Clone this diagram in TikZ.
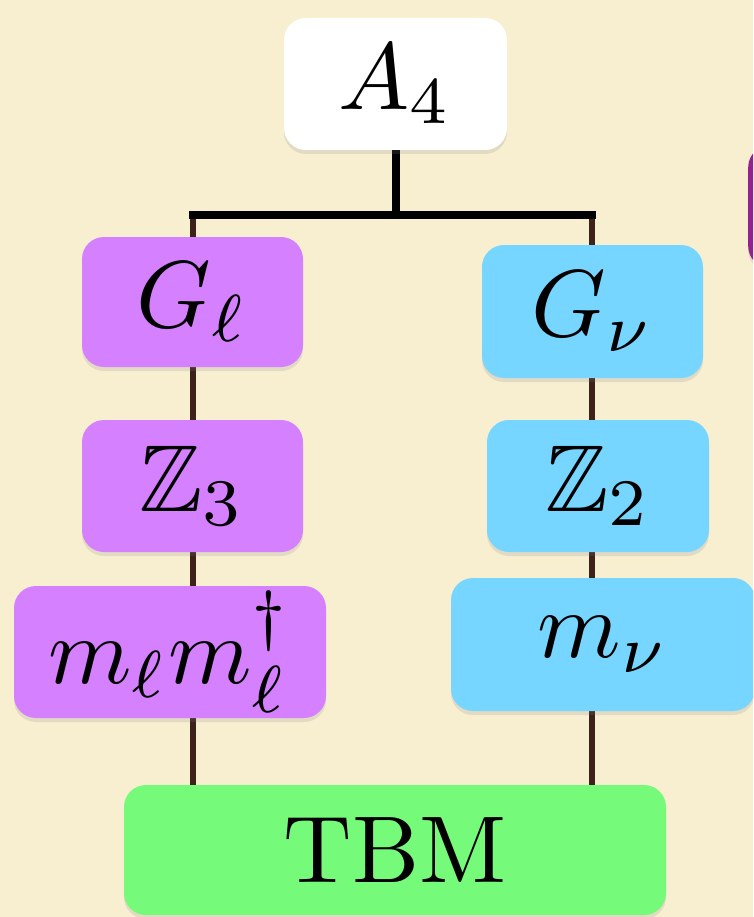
\documentclass[tikz,border=0pt]{standalone}
\usepackage{amssymb}
\usepackage{graphicx}
\usetikzlibrary{shadows,backgrounds}
\definecolor{bgc}{HTML}{F8EFD1}
\definecolor{lav}{HTML}{D580FF}
\definecolor{sky}{HTML}{76D6FF}
\definecolor{flora}{HTML}{76FA7A}
\definecolor{plum}{HTML}{942192}
\definecolor{brownline}{HTML}{3C2219}
\tikzset{
  box/.style={rounded corners=22pt, inner sep=0pt, anchor=center,
    drop shadow={opacity=0.18, shadow xshift=0pt, shadow yshift=-4pt}},
  blackbar/.style={line width=8pt, black},
  brownbar/.style={line width=6pt, brownline},
}
\newcommand{\bigtxt}[1]{\scalebox{9.5}{#1}}
\begin{document}
\begin{tikzpicture}[x=1pt,y=-1pt]
\useasboundingbox (0,0) rectangle (753,917);
\clip (0,0) rectangle (753,917);
\begin{scope}[on background layer]
\fill[bgc] (0,0) rectangle (753,917);
\end{scope}
% nodes
\node[box, fill=white, minimum width=223pt, minimum height=132pt] (a4) at (395.5,84) {\bigtxt{$A_4$}};
\node[box, fill=lav, minimum width=221pt, minimum height=130pt] (gl) at (192.5,302) {\bigtxt{$G_\ell$}};
\node[box, fill=lav, minimum width=221pt, minimum height=132pt] (z3) at (192.5,486) {\bigtxt{$\mathbb{Z}_3$}};
\node[box, fill=lav, minimum width=312pt, minimum height=132pt] (mlml) at (170,652) {\bigtxt{$m_\ell m_\ell^\dagger$}};
\node[box, fill=sky, minimum width=221pt, minimum height=133pt] (gn) at (592.5,311.5) {\bigtxt{$G_\nu$}};
\node[box, fill=sky, minimum width=222pt, minimum height=132pt] (z2) at (598,486) {\bigtxt{$\mathbb{Z}_2$}};
\node[box, fill=sky, minimum width=304pt, minimum height=133pt] (mn) at (603,644.5) {\bigtxt{$m_\nu$}};
\node[box, fill=flora, minimum width=542pt, minimum height=130pt] (tbm) at (395,850) {\bigtxt{TBM}};
\node[box, fill=plum, minimum width=60pt, minimum height=123pt, anchor=north west] (side) at (748,145) {};
% connectors
\coordinate (bl) at (193,215);
\coordinate (br) at (592,215);
\begin{scope}[on background layer]
\draw[brownbar] (bl) -- (bl |- tbm.north);
\draw[brownbar] (br) -- (br |- tbm.north);
\end{scope}
\begin{scope}[on background layer]
\draw[blackbar] (a4.south) -- (a4.south |- bl);
\draw[blackbar, line cap=rect] (bl) -- (br);
\end{scope}
\end{tikzpicture}
\end{document}
